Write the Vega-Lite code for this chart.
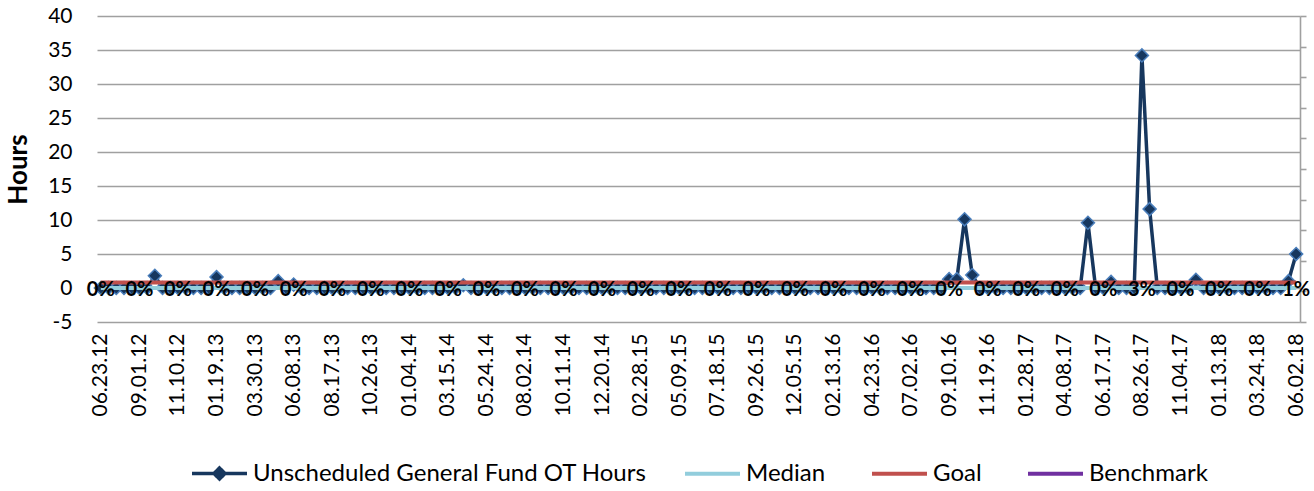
{
  "$schema": "https://vega.github.io/schema/vega-lite/v6.json",
  "width": 1203,
  "height": 306,
  "autosize": "none",
  "padding": {"left": 97, "top": 16, "right": 14, "bottom": 169},
  "background": "#ffffff",
  "data": {"values": [
    {"d":"06.23.12","ot":0,"Median":0,"Goal":0.8,"p":"0%"},
    {"d":"07.07.12","ot":0,"Median":0,"Goal":0.8},
    {"d":"07.21.12","ot":0,"Median":0,"Goal":0.8},
    {"d":"08.04.12","ot":0,"Median":0,"Goal":0.8},
    {"d":"08.18.12","ot":0,"Median":0,"Goal":0.8},
    {"d":"09.01.12","ot":0,"Median":0,"Goal":0.8,"p":"0%"},
    {"d":"09.15.12","ot":0,"Median":0,"Goal":0.8},
    {"d":"09.29.12","ot":1.8,"Median":0,"Goal":0.8},
    {"d":"10.13.12","ot":0,"Median":0,"Goal":0.8},
    {"d":"10.27.12","ot":0,"Median":0,"Goal":0.8},
    {"d":"11.10.12","ot":0,"Median":0,"Goal":0.8,"p":"0%"},
    {"d":"11.24.12","ot":0,"Median":0,"Goal":0.8},
    {"d":"12.08.12","ot":0,"Median":0,"Goal":0.8},
    {"d":"12.22.12","ot":0,"Median":0,"Goal":0.8},
    {"d":"01.05.13","ot":0,"Median":0,"Goal":0.8},
    {"d":"01.19.13","ot":1.6,"Median":0,"Goal":0.8,"p":"0%"},
    {"d":"02.02.13","ot":0,"Median":0,"Goal":0.8},
    {"d":"02.16.13","ot":0,"Median":0,"Goal":0.8},
    {"d":"03.02.13","ot":0,"Median":0,"Goal":0.8},
    {"d":"03.16.13","ot":0,"Median":0,"Goal":0.8},
    {"d":"03.30.13","ot":0,"Median":0,"Goal":0.8,"p":"0%"},
    {"d":"04.13.13","ot":0,"Median":0,"Goal":0.8},
    {"d":"04.27.13","ot":0,"Median":0,"Goal":0.8},
    {"d":"05.11.13","ot":1.0,"Median":0,"Goal":0.8},
    {"d":"05.25.13","ot":0,"Median":0,"Goal":0.8},
    {"d":"06.08.13","ot":0.5,"Median":0,"Goal":0.8,"p":"0%"},
    {"d":"06.22.13","ot":0,"Median":0,"Goal":0.8},
    {"d":"07.06.13","ot":0,"Median":0,"Goal":0.8},
    {"d":"07.20.13","ot":0,"Median":0,"Goal":0.8},
    {"d":"08.03.13","ot":0,"Median":0,"Goal":0.8},
    {"d":"08.17.13","ot":0,"Median":0,"Goal":0.8,"p":"0%"},
    {"d":"08.31.13","ot":0,"Median":0,"Goal":0.8},
    {"d":"09.14.13","ot":0,"Median":0,"Goal":0.8},
    {"d":"09.28.13","ot":0,"Median":0,"Goal":0.8},
    {"d":"10.12.13","ot":0,"Median":0,"Goal":0.8},
    {"d":"10.26.13","ot":0,"Median":0,"Goal":0.8,"p":"0%"},
    {"d":"11.09.13","ot":0,"Median":0,"Goal":0.8},
    {"d":"11.23.13","ot":0,"Median":0,"Goal":0.8},
    {"d":"12.07.13","ot":0,"Median":0,"Goal":0.8},
    {"d":"12.21.13","ot":0,"Median":0,"Goal":0.8},
    {"d":"01.04.14","ot":0,"Median":0,"Goal":0.8,"p":"0%"},
    {"d":"01.18.14","ot":0,"Median":0,"Goal":0.8},
    {"d":"02.01.14","ot":0,"Median":0,"Goal":0.8},
    {"d":"02.15.14","ot":0,"Median":0,"Goal":0.8},
    {"d":"03.01.14","ot":0,"Median":0,"Goal":0.8},
    {"d":"03.15.14","ot":0,"Median":0,"Goal":0.8,"p":"0%"},
    {"d":"03.29.14","ot":0,"Median":0,"Goal":0.8},
    {"d":"04.12.14","ot":0.4,"Median":0,"Goal":0.8},
    {"d":"04.26.14","ot":0,"Median":0,"Goal":0.8},
    {"d":"05.10.14","ot":0,"Median":0,"Goal":0.8},
    {"d":"05.24.14","ot":0,"Median":0,"Goal":0.8,"p":"0%"},
    {"d":"06.07.14","ot":0,"Median":0,"Goal":0.8},
    {"d":"06.21.14","ot":0,"Median":0,"Goal":0.8},
    {"d":"07.05.14","ot":0,"Median":0,"Goal":0.8},
    {"d":"07.19.14","ot":0,"Median":0,"Goal":0.8},
    {"d":"08.02.14","ot":0,"Median":0,"Goal":0.8,"p":"0%"},
    {"d":"08.16.14","ot":0,"Median":0,"Goal":0.8},
    {"d":"08.30.14","ot":0,"Median":0,"Goal":0.8},
    {"d":"09.13.14","ot":0,"Median":0,"Goal":0.8},
    {"d":"09.27.14","ot":0,"Median":0,"Goal":0.8},
    {"d":"10.11.14","ot":0,"Median":0,"Goal":0.8,"p":"0%"},
    {"d":"10.25.14","ot":0,"Median":0,"Goal":0.8},
    {"d":"11.08.14","ot":0,"Median":0,"Goal":0.8},
    {"d":"11.22.14","ot":0,"Median":0,"Goal":0.8},
    {"d":"12.06.14","ot":0,"Median":0,"Goal":0.8},
    {"d":"12.20.14","ot":0,"Median":0,"Goal":0.8,"p":"0%"},
    {"d":"01.03.15","ot":0,"Median":0,"Goal":0.8},
    {"d":"01.17.15","ot":0,"Median":0,"Goal":0.8},
    {"d":"01.31.15","ot":0,"Median":0,"Goal":0.8},
    {"d":"02.14.15","ot":0,"Median":0,"Goal":0.8},
    {"d":"02.28.15","ot":0,"Median":0,"Goal":0.8,"p":"0%"},
    {"d":"03.14.15","ot":0,"Median":0,"Goal":0.8},
    {"d":"03.28.15","ot":0,"Median":0,"Goal":0.8},
    {"d":"04.11.15","ot":0,"Median":0,"Goal":0.8},
    {"d":"04.25.15","ot":0,"Median":0,"Goal":0.8},
    {"d":"05.09.15","ot":0,"Median":0,"Goal":0.8,"p":"0%"},
    {"d":"05.23.15","ot":0,"Median":0,"Goal":0.8},
    {"d":"06.06.15","ot":0,"Median":0,"Goal":0.8},
    {"d":"06.20.15","ot":0,"Median":0,"Goal":0.8},
    {"d":"07.04.15","ot":0,"Median":0,"Goal":0.8},
    {"d":"07.18.15","ot":0,"Median":0,"Goal":0.8,"p":"0%"},
    {"d":"08.01.15","ot":0,"Median":0,"Goal":0.8},
    {"d":"08.15.15","ot":0,"Median":0,"Goal":0.8},
    {"d":"08.29.15","ot":0,"Median":0,"Goal":0.8},
    {"d":"09.12.15","ot":0,"Median":0,"Goal":0.8},
    {"d":"09.26.15","ot":0,"Median":0,"Goal":0.8,"p":"0%"},
    {"d":"10.10.15","ot":0,"Median":0,"Goal":0.8},
    {"d":"10.24.15","ot":0,"Median":0,"Goal":0.8},
    {"d":"11.07.15","ot":0,"Median":0,"Goal":0.8},
    {"d":"11.21.15","ot":0,"Median":0,"Goal":0.8},
    {"d":"12.05.15","ot":0,"Median":0,"Goal":0.8,"p":"0%"},
    {"d":"12.19.15","ot":0,"Median":0,"Goal":0.8},
    {"d":"01.02.16","ot":0,"Median":0,"Goal":0.8},
    {"d":"01.16.16","ot":0,"Median":0,"Goal":0.8},
    {"d":"01.30.16","ot":0,"Median":0,"Goal":0.8},
    {"d":"02.13.16","ot":0,"Median":0,"Goal":0.8,"p":"0%"},
    {"d":"02.27.16","ot":0,"Median":0,"Goal":0.8},
    {"d":"03.12.16","ot":0,"Median":0,"Goal":0.8},
    {"d":"03.26.16","ot":0,"Median":0,"Goal":0.8},
    {"d":"04.09.16","ot":0,"Median":0,"Goal":0.8},
    {"d":"04.23.16","ot":0,"Median":0,"Goal":0.8,"p":"0%"},
    {"d":"05.07.16","ot":0,"Median":0,"Goal":0.8},
    {"d":"05.21.16","ot":0,"Median":0,"Goal":0.8},
    {"d":"06.04.16","ot":0,"Median":0,"Goal":0.8},
    {"d":"06.18.16","ot":0,"Median":0,"Goal":0.8},
    {"d":"07.02.16","ot":0,"Median":0,"Goal":0.8,"p":"0%"},
    {"d":"07.16.16","ot":0,"Median":0,"Goal":0.8},
    {"d":"07.30.16","ot":0,"Median":0,"Goal":0.8},
    {"d":"08.13.16","ot":0,"Median":0,"Goal":0.8},
    {"d":"08.27.16","ot":0,"Median":0,"Goal":0.8},
    {"d":"09.10.16","ot":1.3,"Median":0,"Goal":0.8,"p":"0%"},
    {"d":"09.24.16","ot":1.3,"Median":0,"Goal":0.8},
    {"d":"10.08.16","ot":10.1,"Median":0,"Goal":0.8},
    {"d":"10.22.16","ot":1.9,"Median":0,"Goal":0.8},
    {"d":"11.05.16","ot":0,"Median":0,"Goal":0.8},
    {"d":"11.19.16","ot":0,"Median":0,"Goal":0.8,"p":"0%"},
    {"d":"12.03.16","ot":0,"Median":0,"Goal":0.8},
    {"d":"12.17.16","ot":0,"Median":0,"Goal":0.8},
    {"d":"12.31.16","ot":0,"Median":0,"Goal":0.8},
    {"d":"01.14.17","ot":0,"Median":0,"Goal":0.8},
    {"d":"01.28.17","ot":0,"Median":0,"Goal":0.8,"p":"0%"},
    {"d":"02.11.17","ot":0,"Median":0,"Goal":0.8},
    {"d":"02.25.17","ot":0,"Median":0,"Goal":0.8},
    {"d":"03.11.17","ot":0,"Median":0,"Goal":0.8},
    {"d":"03.25.17","ot":0,"Median":0,"Goal":0.8},
    {"d":"04.08.17","ot":0,"Median":0,"Goal":0.8,"p":"0%"},
    {"d":"04.22.17","ot":0,"Median":0,"Goal":0.8},
    {"d":"05.06.17","ot":0,"Median":0,"Goal":0.8},
    {"d":"05.20.17","ot":9.6,"Median":0,"Goal":0.8},
    {"d":"06.03.17","ot":0,"Median":0,"Goal":0.8},
    {"d":"06.17.17","ot":0,"Median":0,"Goal":0.8,"p":"0%"},
    {"d":"07.01.17","ot":0.9,"Median":0,"Goal":0.8},
    {"d":"07.15.17","ot":0,"Median":0,"Goal":0.8},
    {"d":"07.29.17","ot":0,"Median":0,"Goal":0.8},
    {"d":"08.12.17","ot":0,"Median":0,"Goal":0.8},
    {"d":"08.26.17","ot":34.2,"Median":0,"Goal":0.8,"p":"3%"},
    {"d":"09.09.17","ot":11.6,"Median":0,"Goal":0.8},
    {"d":"09.23.17","ot":0,"Median":0,"Goal":0.8},
    {"d":"10.07.17","ot":0,"Median":0,"Goal":0.8},
    {"d":"10.21.17","ot":0,"Median":0,"Goal":0.8},
    {"d":"11.04.17","ot":0,"Median":0,"Goal":0.8,"p":"0%"},
    {"d":"11.18.17","ot":0,"Median":0,"Goal":0.8},
    {"d":"12.02.17","ot":1.2,"Median":0,"Goal":0.8},
    {"d":"12.16.17","ot":0,"Median":0,"Goal":0.8},
    {"d":"12.30.17","ot":0,"Median":0,"Goal":0.8},
    {"d":"01.13.18","ot":0,"Median":0,"Goal":0.8,"p":"0%"},
    {"d":"01.27.18","ot":0,"Median":0,"Goal":0.8},
    {"d":"02.10.18","ot":0,"Median":0,"Goal":0.8},
    {"d":"02.24.18","ot":0,"Median":0,"Goal":0.8},
    {"d":"03.10.18","ot":0,"Median":0,"Goal":0.8},
    {"d":"03.24.18","ot":0,"Median":0,"Goal":0.8,"p":"0%"},
    {"d":"04.07.18","ot":0,"Median":0,"Goal":0.8},
    {"d":"04.21.18","ot":0,"Median":0,"Goal":0.8},
    {"d":"05.05.18","ot":0,"Median":0,"Goal":0.8},
    {"d":"05.19.18","ot":1.0,"Median":0,"Goal":0.8},
    {"d":"06.02.18","ot":5.0,"Median":0,"Goal":0.8,"p":"1%"}
  ]},
  "resolve": {"scale": {"y": "independent"}},
  "layer": [
    {
      "layer": [
        {
          "mark": {"type": "line", "color": "#17375E", "strokeWidth": 3.5},
          "encoding": {
            "x": {"field": "d", "type": "ordinal", "sort": null,
              "scale": {"padding": 0.5},
              "axis": {
                "values": ["06.23.12","09.01.12","11.10.12","01.19.13","03.30.13","06.08.13","08.17.13","10.26.13","01.04.14","03.15.14","05.24.14","08.02.14","10.11.14","12.20.14","02.28.15","05.09.15","07.18.15","09.26.15","12.05.15","02.13.16","04.23.16","07.02.16","09.10.16","11.19.16","01.28.17","04.08.17","06.17.17","08.26.17","11.04.17","01.13.18","03.24.18","06.02.18"],
                "labelAngle": -90, "domain": false, "ticks": false, "grid": false,
                "labelPadding": 11, "title": null, "labelOverlap": false
              }
            },
            "y": {"field": "ot", "type": "quantitative",
              "scale": {"domain": [-5, 40], "nice": false, "zero": false},
              "axis": {"title": "Hours"}
            },
            "strokeDash": {"datum": "Unscheduled General Fund OT Hours", "type": "nominal",
              "scale": {"domain": ["Unscheduled General Fund OT Hours"], "range": [[1, 0]]},
              "legend": {
                "title": null,
                "symbolType": "M-1,0L1,0M-0.2,0L0,-0.2L0.2,0L0,0.2Z",
                "symbolFillColor": "#17375E",
                "symbolStrokeColor": "#17375E",
                "symbolStrokeWidth": 3.5,
                "symbolSize": 3025
              }
            }
          }
        },
        {
          "mark": {"type": "point", "shape": "diamond", "filled": true, "size": 170,
            "color": "#17375E", "stroke": "#4A7EBB", "strokeWidth": 1.5, "opacity": 1},
          "encoding": {
            "x": {"field": "d", "type": "ordinal", "sort": null},
            "y": {"field": "ot", "type": "quantitative", "axis": {"title": "Hours"}}
          }
        },
        {
          "transform": [{"fold": ["Median", "Goal"], "as": ["series", "val"]}],
          "mark": {"type": "line", "strokeWidth": 4},
          "encoding": {
            "x": {"field": "d", "type": "ordinal", "sort": null},
            "y": {"field": "val", "type": "quantitative", "axis": {"title": "Hours"}},
            "color": {"field": "series", "type": "nominal",
              "scale": {"domain": ["Median", "Goal", "Benchmark"], "range": ["#92CDDC", "#C0504D", "#7030A0"]},
              "legend": {"title": null, "symbolType": "stroke", "symbolStrokeWidth": 4, "symbolSize": 3025}
            }
          }
        },
        {
          "transform": [{"filter": "datum.p"}],
          "mark": {"type": "text", "fontSize": 20, "fontWeight": "bold", "font": "Lato",
            "baseline": "middle", "dy": 2, "color": "#000000"},
          "encoding": {
            "x": {"field": "d", "type": "ordinal", "sort": null},
            "y": {"datum": 0, "type": "quantitative", "axis": {"title": "Hours"}},
            "text": {"field": "p", "type": "nominal"}
          }
        }
      ]
    },
    {
      "mark": {"type": "point", "opacity": 0},
      "encoding": {
        "x": {"field": "d", "type": "ordinal", "sort": null},
        "y": {"datum": 0, "type": "quantitative",
          "scale": {"domain": [-0.1, 0.9], "nice": false, "zero": false},
          "axis": {"orient": "right", "labels": false, "title": null, "grid": false,
            "values": [-0.1,0,0.1,0.2,0.3,0.4,0.5,0.6,0.7,0.8,0.9],
            "domain": true, "domainColor": "#A0A0A0", "domainWidth": 1.6,
            "ticks": true, "tickColor": "#A0A0A0", "tickWidth": 1.6, "tickSize": 6}
        }
      }
    }
  ],
  "config": {
    "font": "Lato",
    "view": {"stroke": null},
    "axis": {"labelFont": "Lato", "labelFontSize": 21, "labelColor": "#000000", "titleFont": "Lato"},
    "axisLeft": {
      "values": [-5,0,5,10,15,20,25,30,35,40],
      "labelExpr": "replace(datum.label, '\u2212', '-')",
      "domain": false, "ticks": false, "grid": true,
      "gridColor": "#A0A0A0", "gridWidth": 1.6,
      "labelPadding": 25,
      "titleFontSize": 26, "titleFontWeight": "bold", "titleColor": "#000000",
      "titlePadding": 16
    },
    "legend": {
      "orient": "bottom", "direction": "horizontal",
      "labelFont": "Lato", "labelFontSize": 24, "labelColor": "#000000", "labelLimit": 0,
      "labelOffset": 4, "columnPadding": 38, "offset": 28,
      "layout": {"bottom": {"anchor": "middle", "direction": "horizontal", "center": true, "margin": 36}}
    }
  }
}
